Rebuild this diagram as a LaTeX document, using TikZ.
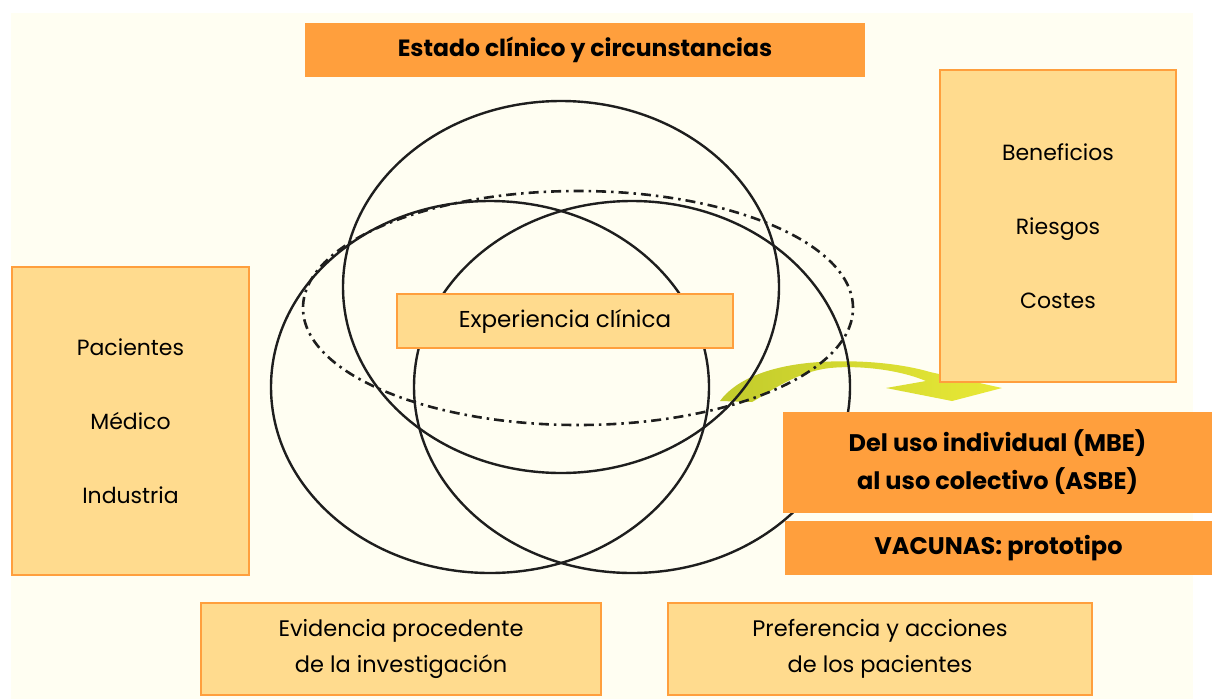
\documentclass[tikz,border=0pt]{standalone}
\usepackage{fontspec}
\setmainfont{Poppins}
\definecolor{cream}{HTML}{FFFEF2}
\definecolor{lightfill}{HTML}{FFDB8E}
\definecolor{orangeline}{HTML}{FF9F3D}
\definecolor{orangefill}{HTML}{FF9F3D}
\definecolor{inkline}{HTML}{1E1E1E}
\definecolor{arrowgreen}{HTML}{C2CB2C}
\definecolor{arrowpale}{HTML}{F2F2CC}
\definecolor{arrowyellow}{HTML}{E9E936}
\begin{document}
\begin{tikzpicture}[x=1pt,y=-1pt,
  lightbox/.style={draw=orangeline, line width=2.5pt, fill=lightfill, inner sep=0pt, align=center, font=\fontsize{22.5}{36}\selectfont},
  darkbox/.style={fill=orangefill, inner sep=0pt, align=center, font=\fontsize{24}{38}\selectfont\bfseries},
  ring/.style={draw=inkline, line width=2.4pt},
  dotring/.style={draw=inkline, line width=2.6pt, dash pattern=on 10pt off 5pt on 2.5pt off 5pt}
]
\useasboundingbox (0,0) rectangle (1212,699);
\fill[white] (0,0) rectangle (1212,699);
\fill[cream] (11,13) rectangle (1193,699);

% curved arrow
\shade[left color=arrowgreen, middle color=arrowpale, right color=arrowyellow]
  (720,401) .. controls (735,380) and (770,365) .. (820,362)
  .. controls (870,359) and (910,366) .. (930,372) -- (1002,388) -- (952,401) -- (886,388)
  -- (926,381) .. controls (900,370) and (860,365) .. (830,368)
  .. controls (795,372) and (770,392) .. (752,402) -- cycle;

% circles
\draw[ring] (561,287) ellipse [x radius=218pt, y radius=186pt];
\draw[ring] (490,387) ellipse [x radius=219pt, y radius=186pt];
\draw[ring] (632,387) ellipse [x radius=218pt, y radius=186pt];
\draw[dotring] (578,308) ellipse [x radius=275pt, y radius=117pt];

% boxes
\node[darkbox, minimum width=560pt, minimum height=54pt, font=\fontsize{23.5}{38}\selectfont\bfseries] (estado) at (585,50) {Estado clínico y circunstancias};
\node[lightbox, minimum width=236pt, minimum height=312pt, font=\fontsize{22}{74}\selectfont] (benef) at (1058,226) {Beneficios\\Riesgos\\Costes};
\node[lightbox, minimum width=237pt, minimum height=308pt, font=\fontsize{22}{74}\selectfont] (pac) at (130.5,421) {Pacientes\\Médico\\Industria};
\node[lightbox, minimum width=336pt, minimum height=54pt, font=\fontsize{23}{36}\selectfont] (exp) at (565,321) {Experiencia clínica};
\node[darkbox, minimum width=429pt, minimum height=101pt] (uso) at (997.5,462.5) {Del uso individual (MBE)\\al uso colectivo (ASBE)};
\node[darkbox, minimum width=427pt, minimum height=54pt] (vac) at (998.5,548) {VACUNAS: prototipo};
\node[lightbox, minimum width=400pt, minimum height=92pt] (evid) at (401,649) {Evidencia procedente\\de la investigación};
\node[lightbox, minimum width=424pt, minimum height=92pt] (pref) at (880,649) {Preferencia y acciones\\de los pacientes};
\end{tikzpicture}
\end{document}
